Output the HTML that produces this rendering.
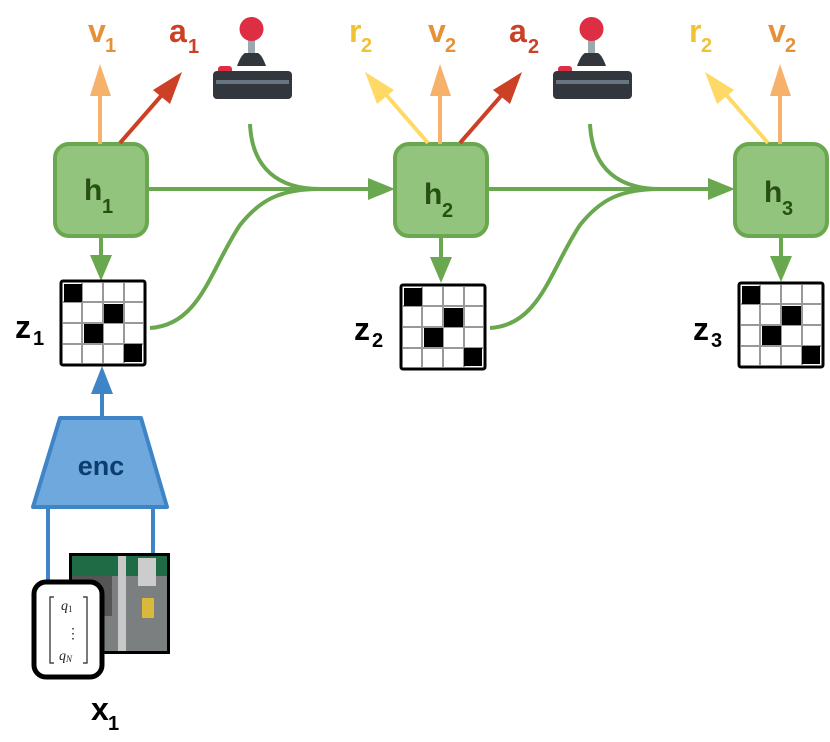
<!DOCTYPE html>
<html><head><meta charset="utf-8"><style>
body{margin:0;background:#fff}
svg text{font-family:"Liberation Sans",sans-serif;font-weight:bold}
</style></head><body>
<svg width="830" height="737" viewBox="0 0 830 737" xmlns="http://www.w3.org/2000/svg">
<defs>
<g id="grid">
<rect x="0" y="0" width="84" height="84" rx="2" fill="#fff" stroke="#000" stroke-width="3"/>
<path d="M21 2V82M42 2V82M63 2V82M2 21H82M2 42H82M2 63H82" stroke="#999" stroke-width="2"/>
<rect x="3" y="3" width="18" height="18" fill="#000"/>
<rect x="43" y="23" width="19" height="19" fill="#000"/>
<rect x="23" y="43" width="19" height="19" fill="#000"/>
<rect x="63" y="63" width="18" height="18" fill="#000"/>
</g>
<g id="joy">
<rect x="35" y="16" width="7" height="24" fill="#9AA8B0"/>
<circle cx="38.5" cy="13" r="12" fill="#DD2E44"/>
<path d="M24 50 Q28 39 32 37 H45 Q49 39 53 50Z" fill="#31373D"/>
<rect x="5" y="50" width="14" height="8" rx="3" fill="#DD2E44"/>
<rect x="0" y="55" width="79" height="28" rx="4" fill="#31373D"/>
<rect x="3" y="64" width="73" height="4" fill="#66757F"/>
</g>
<g id="hbox"><rect x="0" y="0" width="92" height="92" rx="14" fill="#93C47D" stroke="#6AA84F" stroke-width="4"/></g>
</defs>

<g stroke="#6AA84F" stroke-width="4" fill="none">
<path d="M147 189H380"/><path d="M487 189H720"/>
<path d="M250 124 C252 170 280 189 320 189"/>
<path d="M150 328 C200 325 210 270 240 225 C260 200 280 189 320 189"/>
<path d="M590 124 C592 170 620 189 660 189"/>
<path d="M490 328 C540 325 550 270 580 225 C600 200 620 189 660 189"/>
<path d="M101 236V256"/><path d="M441 236V258"/><path d="M781 236V258"/>
</g>
<g fill="#6AA84F">
<path d="M395 189L368 178V200Z"/><path d="M735 189L708 178V200Z"/>
<path d="M101 281L90 255H112Z"/><path d="M441 283L430 257H452Z"/><path d="M781 282L770 256H792Z"/>
</g>
<use href="#hbox" x="55" y="144"/><use href="#hbox" x="395" y="144"/><use href="#hbox" x="735" y="144"/>
<g fill="#274E13" font-size="30"><text x="84" y="200">h</text><text x="424" y="204">h</text><text x="764" y="202">h</text></g>
<g fill="#274E13" font-size="20"><text x="102" y="213">1</text><text x="442" y="217">2</text><text x="782" y="215">3</text></g>

<use href="#grid" x="61" y="281"/><use href="#grid" x="401" y="285"/><use href="#grid" x="739" y="283"/>
<g font-size="32" fill="#000"><text x="15" y="338">z</text><text x="354" y="340">z</text><text x="693" y="340">z</text></g>
<g font-size="20" fill="#000"><text x="33" y="345">1</text><text x="372" y="347">2</text><text x="711" y="347">3</text></g>

<g stroke-width="4">
<path d="M100 144V90" stroke="#F6B26B"/><path d="M440 144V90" stroke="#F6B26B"/><path d="M780 144V90" stroke="#F6B26B"/>
<path d="M120 143L168 88" stroke="#CC4125"/><path d="M460 143L508 88" stroke="#CC4125"/>
<path d="M428 143L382 90" stroke="#FFD966"/><path d="M768 143L722 90" stroke="#FFD966"/>
</g>
<g>
<path d="M100 64L90 96H111Z" fill="#F6B26B"/><path d="M440 64L430 96H451Z" fill="#F6B26B"/><path d="M780 64L770 96H791Z" fill="#F6B26B"/>
<path d="M182 72L153 90L170 104Z" fill="#CC4125"/><path d="M522 72L493 90L510 104Z" fill="#CC4125"/>
<path d="M365 72L377 104L394 90Z" fill="#FFD966"/><path d="M705 72L717 104L734 90Z" fill="#FFD966"/>
</g>
<g font-size="32">
<text x="88" y="42" fill="#E69138">v</text><text x="428" y="42" fill="#E69138">v</text><text x="768" y="42" fill="#E69138">v</text>
<text x="169" y="42" fill="#CC4125">a</text><text x="509" y="42" fill="#CC4125">a</text>
<text x="349" y="42" fill="#F1C232">r</text><text x="689" y="42" fill="#F1C232">r</text>
</g>
<g font-size="20">
<text x="105" y="52" fill="#E69138">1</text><text x="445" y="52" fill="#E69138">2</text><text x="785" y="52" fill="#E69138">2</text>
<text x="188" y="53" fill="#CC4125">1</text><text x="528" y="53" fill="#CC4125">2</text>
<text x="361" y="52" fill="#F1C232">2</text><text x="701" y="52" fill="#F1C232">2</text>
</g>
<use href="#joy" x="213" y="16"/><use href="#joy" x="553" y="16"/>

<path d="M102 417V392" stroke="#3D85C6" stroke-width="4"/>
<path d="M102 366L91 394H113Z" fill="#3D85C6"/>
<path d="M60 418H141L167 507H33Z" fill="#6FA8DC" stroke="#3D85C6" stroke-width="4" stroke-linejoin="round"/>
<text x="101" y="475" font-size="27" fill="#0B3D6E" text-anchor="middle">enc</text>
<path d="M48 507V585M153 507V556" stroke="#3D85C6" stroke-width="4"/>
<rect x="69" y="553" width="101" height="101" fill="#000"/>
<rect x="72" y="556" width="95" height="95" fill="#7b7f80"/>
<rect x="72" y="556" width="95" height="20" fill="#1e6b45"/>
<rect x="72" y="576" width="40" height="40" fill="#555"/>
<rect x="118" y="556" width="8" height="95" fill="#c8c8c8"/>
<rect x="138" y="558" width="18" height="28" fill="#ccc"/>
<rect x="142" y="598" width="12" height="20" fill="#d9b93a"/>
<rect x="34" y="582" width="68" height="95" rx="12" fill="#fff" stroke="#000" stroke-width="5"/>
<path d="M54 597h-4v66h4M83 597h4v66h-4" stroke="#222" stroke-width="1.2" fill="none"/>
<text x="61" y="610" font-size="14" fill="#222" font-style="italic" style="font-family:'Liberation Serif',serif;font-weight:normal">q<tspan font-size="9" dy="2" font-style="normal">1</tspan></text>
<text x="66" y="638" font-size="14" fill="#222" style="font-family:'Liberation Serif',serif;font-weight:normal">⋮</text>
<text x="59" y="660" font-size="14" fill="#222" font-style="italic" style="font-family:'Liberation Serif',serif;font-weight:normal">q<tspan font-size="9" dy="2">N</tspan></text>
<text x="91" y="720" font-size="32" fill="#000">x</text><text x="108" y="730" font-size="20" fill="#000">1</text>
</svg>
</body></html>
